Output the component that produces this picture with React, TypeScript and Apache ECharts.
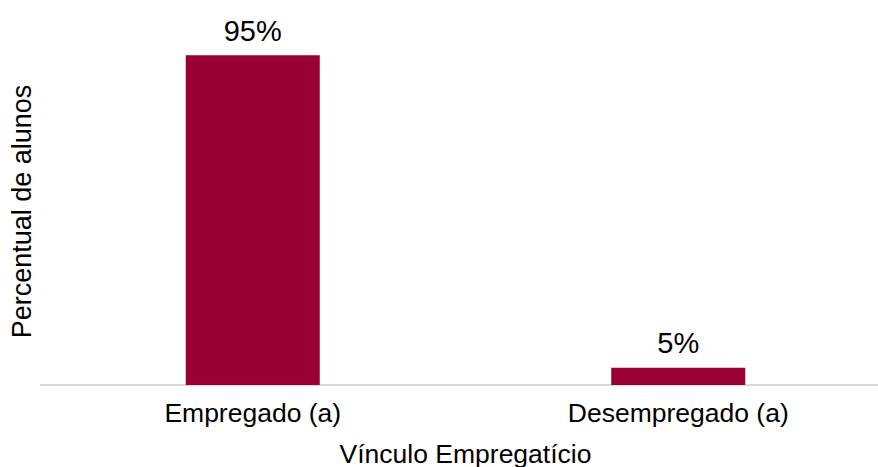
import React, { useEffect, useRef } from "react";
import * as echarts from "echarts";

const categories = ["Empregado (a)", "Desempregado (a)"];
const values = [95, 5];
const xAxisName = "Vínculo Empregatício";
const yAxisName = "Percentual de alunos";

export default function App() {
  const ref = useRef<HTMLDivElement>(null);
  useEffect(() => {
    if (!ref.current) return;
    document.body.style.margin = "0";
    document.body.style.overflow = "hidden";
    const chart = echarts.init(ref.current, undefined, { renderer: "svg" });
    const font = "Liberation Sans, Arial, sans-serif";
    chart.setOption({
      animation: false,
      grid: { left: 40, width: 851, top: 38, height: 347, containLabel: false, outerBoundsMode: "none" },
      graphic: [
        {
          type: "line",
          shape: { x1: 40, y1: 385, x2: 878, y2: 385 },
          style: { stroke: "#d9d9d9", lineWidth: 2 },
          z: 0,
        },
      ],
      xAxis: {
        type: "category",
        data: categories,
        name: xAxisName,
        nameLocation: "middle",
        nameGap: 55,
        nameTextStyle: { fontSize: 26.5, color: "#000", fontFamily: font },
        axisLine: { show: false },
        axisTick: { show: false },
        axisLabel: { fontSize: 26.5, color: "#000", fontFamily: font, margin: 14 },
      },
      yAxis: {
        type: "value",
        min: 0,
        max: 100,
        name: yAxisName,
        nameLocation: "middle",
        nameGap: 5,
        nameTextStyle: { fontSize: 27, color: "#000", fontFamily: font },
        axisLine: { show: false },
        axisTick: { show: false },
        axisLabel: { show: false },
        splitLine: { show: false },
      },
      series: [
        {
          type: "bar",
          data: values,
          barWidth: "31.5%",
          itemStyle: { color: "#990033" },
          label: {
            show: true,
            position: "top",
            distance: 10,
            formatter: "{c}%",
            fontSize: 29,
            color: "#000",
            fontFamily: font,
          },
        },
      ],
    });
    return () => chart.dispose();
  }, []);
  return (
    <div
      ref={ref}
      style={{ position: "fixed", left: 0, top: 0, width: 878, height: 467, background: "#fff" }}
    />
  );
}
